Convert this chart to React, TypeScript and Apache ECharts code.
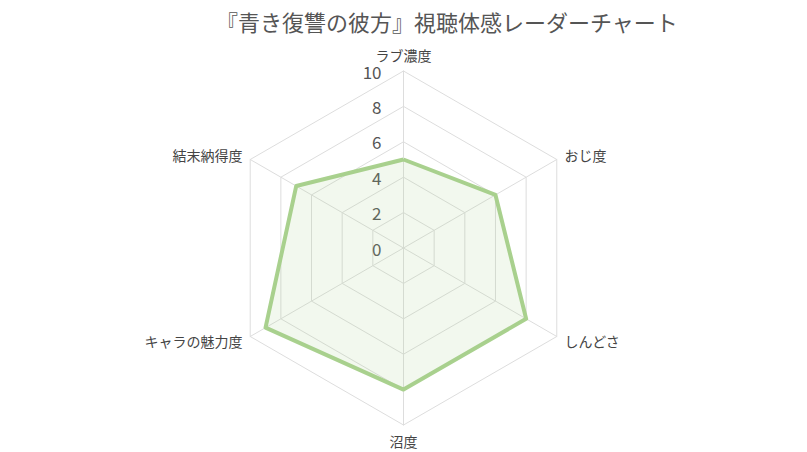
import { useEffect, useRef } from "react";
import * as echarts from "echarts";

// listed clockwise from the top, as in the picture
const indicators = ["ラブ濃度", "おじ度", "しんどさ", "沼度", "キャラの魅力度", "結末納得度"];
const values = [5, 6, 8, 8, 9, 7];
const maxValue = 10;

const FONT = '"Noto Sans CJK JP", "Noto Sans", sans-serif';

export default function App() {
  const chartRef = useRef<HTMLDivElement>(null);

  useEffect(() => {
    if (!chartRef.current) return;
    const chart = echarts.init(chartRef.current, undefined, { renderer: "svg" });

    // echarts radar runs counter-clockwise, so flip everything after the first axis
    const order = [0, ...indicators.map((_, i) => i).slice(1).reverse()];

    chart.setOption({
      animation: false,
      backgroundColor: "#fff",
      textStyle: { fontFamily: FONT },
      title: {
        text: "『青き復讐の彼方』視聴体感レーダーチャート",
        left: 211,
        top: 5,
        textStyle: { fontSize: 22, fontWeight: "normal", color: "#555", fontFamily: FONT },
      },
      radar: {
        center: ["50%", 248],
        radius: 177,
        startAngle: 90,
        splitNumber: 5,
        shape: "polygon",
        nameGap: 9,
        axisName: { color: "#444", fontSize: 14, fontFamily: FONT },
        axisLine: { lineStyle: { color: "#ddd" } },
        splitLine: { lineStyle: { color: "#ddd" } },
        splitArea: { show: false },
        axisLabel: { show: false },
        indicator: order.map((idx, i) => ({
          name: indicators[idx],
          min: 0,
          max: maxValue,
          axisLabel:
            i === 0
              ? { show: true, fontSize: 17, color: "#555", margin: 22, fontFamily: FONT }
              : { show: false },
        })),
      },
      series: [
        {
          type: "radar",
          symbol: "none",
          data: [
            {
              value: order.map((idx) => values[idx]),
              lineStyle: { color: "#a9d18e", width: 4 },
              areaStyle: { color: "#a9d18e", opacity: 0.15 },
            },
          ],
        },
      ],
    });
    return () => chart.dispose();
  }, []);

  return (
    <div
      ref={chartRef}
      style={{ position: "absolute", left: 0, top: 0, width: 807, height: 452 }}
    />
  );
}
